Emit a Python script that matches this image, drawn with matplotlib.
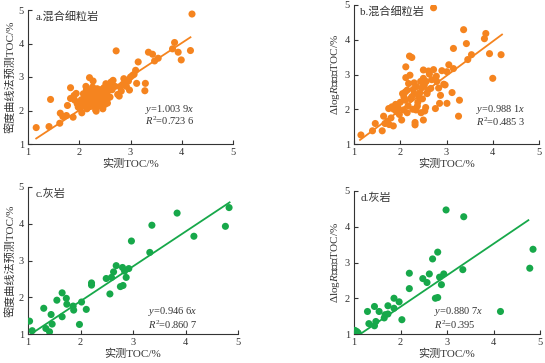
import matplotlib
matplotlib.use("Agg")
import matplotlib.pyplot as plt
import numpy as np

plt.rcParams['font.family'] = ['Liberation Serif', 'Noto Sans CJK SC', 'DejaVu Sans']
plt.rcParams['mathtext.fontset'] = 'custom'
plt.rcParams['mathtext.rm'] = 'Liberation Serif'
plt.rcParams['mathtext.it'] = 'Liberation Serif:italic'

# Panel a: density-curve method, mixed fine-grained rock
a_x = [1.16, 1.41, 1.44, 1.62, 1.63, 1.68, 1.75, 1.77, 1.83, 1.83, 1.88, 1.91, 1.94, 1.96, 1.98,
       2.02, 2.04, 2.05, 2.08, 2.10, 2.12, 2.13, 2.15, 2.17, 2.18, 2.20, 2.21, 2.22, 2.24, 2.25,
       2.27, 2.28, 2.30, 2.31, 2.32, 2.33, 2.34, 2.35, 2.37, 2.38, 2.40, 2.42, 2.44, 2.45, 2.47,
       2.48, 2.50, 2.51, 2.52, 2.53, 2.55, 2.56, 2.58, 2.60, 2.62, 2.64, 2.66, 2.70, 2.72, 2.75,
       2.78, 2.80, 2.82, 2.85, 2.87, 2.90, 2.92, 2.96, 2.98, 3.00, 3.04, 3.07, 3.10, 3.12, 3.15,
       3.28, 3.29, 3.35, 3.43, 3.47, 3.54, 3.82, 3.86, 3.93, 3.99, 4.17, 4.20,
       2.14, 2.26, 2.36, 2.46, 2.08, 1.90, 2.19, 2.29, 2.41, 2.54, 2.06]
a_y = [1.49, 1.52, 2.33, 1.62, 1.92, 1.82, 1.85, 2.15, 2.68, 2.36, 1.80, 2.31, 2.51, 2.20, 2.10,
       2.05, 2.32, 1.93, 2.15, 2.40, 2.25, 2.72, 2.05, 2.38, 2.52, 2.98, 2.28, 2.12, 2.60, 2.45,
       2.88, 2.35, 2.18, 2.55, 2.02, 1.98, 2.48, 2.65, 2.30, 2.58, 2.42, 2.62, 2.22, 2.52, 2.35,
       2.68, 2.18, 2.45, 2.80, 2.28, 2.22, 2.58, 2.72, 2.40, 2.85, 2.62, 2.90, 2.72, 3.78, 2.48,
       2.43, 2.70, 2.58, 2.78, 2.95, 2.82, 2.72, 2.88, 2.61, 3.00, 3.05, 3.08, 3.20, 2.81, 3.45,
       2.59, 2.81, 3.74, 3.68, 3.48, 3.56, 3.84, 4.03, 3.74, 3.51, 3.79, 4.88,
       2.62, 2.70, 2.12, 2.05, 2.50, 2.45, 2.35, 2.48, 2.55, 2.32, 2.25]

# Panel b: ΔlogR method, mixed fine-grained rock
b_x = [1.15, 1.40, 1.46, 1.61, 1.64, 1.67, 1.75, 1.76, 1.82, 1.85, 1.90, 1.92, 2.03, 2.07, 2.11,
       2.11, 2.12, 2.12, 2.18, 2.20, 2.25, 2.21, 2.25, 2.28, 2.30, 2.32, 2.32, 2.34, 2.37, 2.40,
       2.44, 2.47, 2.50, 2.50, 2.50, 2.53, 2.56, 2.58, 2.61, 2.63, 2.66, 2.72, 2.76, 2.79, 2.83,
       2.85, 2.87, 2.90, 2.94, 2.97, 3.01, 3.05, 3.01, 3.12, 3.15, 3.15, 3.26, 3.28, 3.37, 3.43,
       3.46, 3.54, 3.82, 3.85, 3.93, 4.00, 4.18, 2.72,
       1.80, 1.86, 1.95, 1.98, 2.00, 2.05, 2.08, 2.15, 2.17, 2.22, 2.27, 2.35, 2.38, 2.42, 2.45,
       2.48, 2.52, 2.55, 2.60, 2.68, 2.78, 2.30, 2.15, 1.72]
b_y = [1.26, 1.38, 1.59, 1.38, 1.80, 1.59, 2.02, 1.56, 2.07, 1.52, 2.14, 1.93, 1.69, 1.98, 2.26,
       2.50, 2.91, 3.22, 2.74, 3.53, 3.49, 2.98, 2.36, 2.57, 2.76, 1.55, 1.62, 1.98, 2.09, 2.36,
       2.80, 2.62, 3.13, 2.89, 1.69, 1.95, 2.80, 2.45, 3.10, 3.01, 2.60, 3.14, 2.02, 2.80, 2.61,
       2.17, 2.40, 3.11, 2.72, 2.70, 2.17, 3.28, 3.08, 2.48, 3.75, 3.17, 1.80, 2.26, 4.29, 3.89,
       3.43, 3.57, 4.03, 4.18, 3.60, 2.89, 3.57, 4.92,
       1.75, 2.00, 2.05, 1.85, 2.20, 2.45, 2.35, 2.55, 2.10, 2.30, 2.00, 2.65, 2.20, 2.48, 1.90,
       2.30, 2.70, 2.05, 2.55, 2.85, 2.95, 2.45, 1.90, 1.65]

# Panel c: density-curve method, limestone
c_x = [1.03, 1.08, 1.30, 1.34, 1.41, 1.44, 1.46, 1.55, 1.65, 1.65, 1.73, 1.74, 1.86, 1.87, 1.98,
       2.02, 2.11, 2.21, 2.21, 2.49, 2.56, 2.59, 2.63, 2.68, 2.76, 2.81, 2.80, 2.84, 2.87, 2.92,
       2.97, 3.32, 3.36, 3.84, 4.16, 4.76, 4.83]
c_y = [1.35, 1.09, 1.70, 1.15, 1.06, 1.53, 1.27, 1.92, 2.12, 1.47, 1.97, 1.81, 1.76, 1.65, 1.26,
       1.87, 1.67, 2.39, 2.33, 2.51, 2.09, 2.54, 2.69, 2.86, 2.29, 2.32, 2.81, 2.71, 2.54, 2.78,
       3.53, 3.22, 3.96, 4.29, 3.66, 3.93, 4.44]

# Panel d: ΔlogR method, limestone
d_x = [1.02, 1.06, 1.09, 1.29, 1.32, 1.44, 1.44, 1.47, 1.54, 1.65, 1.67, 1.73, 1.73, 1.86, 1.86,
       1.97, 2.03, 2.19, 2.19, 2.48, 2.57, 2.62, 2.69, 2.75, 2.80, 2.80, 2.84, 2.88, 2.93, 2.98,
       3.34, 3.36, 4.15, 4.78, 4.85]
d_y = [1.10, 1.07, 1.03, 1.63, 1.29, 1.77, 1.23, 1.35, 1.63, 1.45, 1.54, 1.79, 1.56, 2.00, 1.72,
       1.90, 1.40, 2.70, 2.27, 2.55, 2.44, 2.68, 3.10, 2.00, 2.02, 3.29, 2.59, 2.38, 2.68, 4.47,
       2.80, 4.28, 1.63, 2.84, 3.37]

titles = ['a.混合细粒岩', 'b.混合细粒岩', 'c.灰岩', 'd.灰岩']
slopes = [1.0039, 0.9881, 0.9466, 0.8807]
slope_labels = ['1.003 9', '0.988 1', '0.946 6', '0.880 7']
r2_labels = ['0.723 6', '0.485 3', '0.860 7', '0.395']
line_ranges = [(1.16, 4.17), (1.13, 4.20), (1.0, 4.84), (1.13, 4.75)]
ylabels = ['密度曲线法预测TOC/%', r'$\Delta$log$R$法预测TOC/%',
           '密度曲线法预测TOC/%', r'$\Delta$log$R$法预测TOC/%']
xlabel = '实测TOC/%'
ticks = [1, 2, 3, 4, 5]

orange = '#F5841F'
green = '#17A84A'
colors = [orange, orange, green, green]
datasets = [(a_x, a_y), (b_x, b_y), (c_x, c_y), (d_x, d_y)]

W, H = 545, 363
rects = [(28, 233, 10, 144), (354, 539, 5, 144), (28, 238, 187, 334), (354, 540, 191, 334)]
eq_pos = [(0.57, 0.26), (0.66, 0.25), (0.57, 0.15), (0.43, 0.155)]

fig = plt.figure(figsize=(W / 100, H / 100), dpi=100)
for i, (l, r, t, b) in enumerate(rects):
    ax = fig.add_axes([l / W, 1 - b / H, (r - l) / W, (b - t) / H])
    x, y = datasets[i]
    ax.scatter(x, y, s=26, color=colors[i], edgecolors='none', zorder=3)
    lx = np.array(line_ranges[i])
    ax.plot(lx, slopes[i] * lx, color=colors[i], lw=1.3, zorder=2)
    ax.set_xlim(1, 5)
    ax.set_ylim(1, 5)
    ax.set_xticks(ticks)
    ax.set_yticks(ticks)
    for s in ['top', 'right']:
        ax.spines[s].set_visible(False)
    for s in ['left', 'bottom']:
        ax.spines[s].set_linewidth(0.8)
        ax.spines[s].set_color('#333333')
    ax.tick_params(direction='in', length=3, width=0.8, labelsize=7.5, pad=3, colors='#333333')
    ax.set_xlabel(xlabel, fontsize=8, labelpad=1, color='#333333')
    ax.set_ylabel(ylabels[i], fontsize=8, labelpad=2, color='#333333')
    ax.text(0.035, 0.99, titles[i], transform=ax.transAxes, fontsize=8, va='top', ha='left',
            color='#333333')
    ex, ey = eq_pos[i]
    ax.text(ex, ey, r'$y$=' + slope_labels[i] + r'$x$', transform=ax.transAxes, fontsize=7.5,
            va='center', ha='left', color='#333333')
    ax.text(ex, ey - 0.09, r'$R^2$=' + r2_labels[i], transform=ax.transAxes, fontsize=7.5,
            va='center', ha='left', color='#333333')

fig.savefig('out.png', dpi=100)
